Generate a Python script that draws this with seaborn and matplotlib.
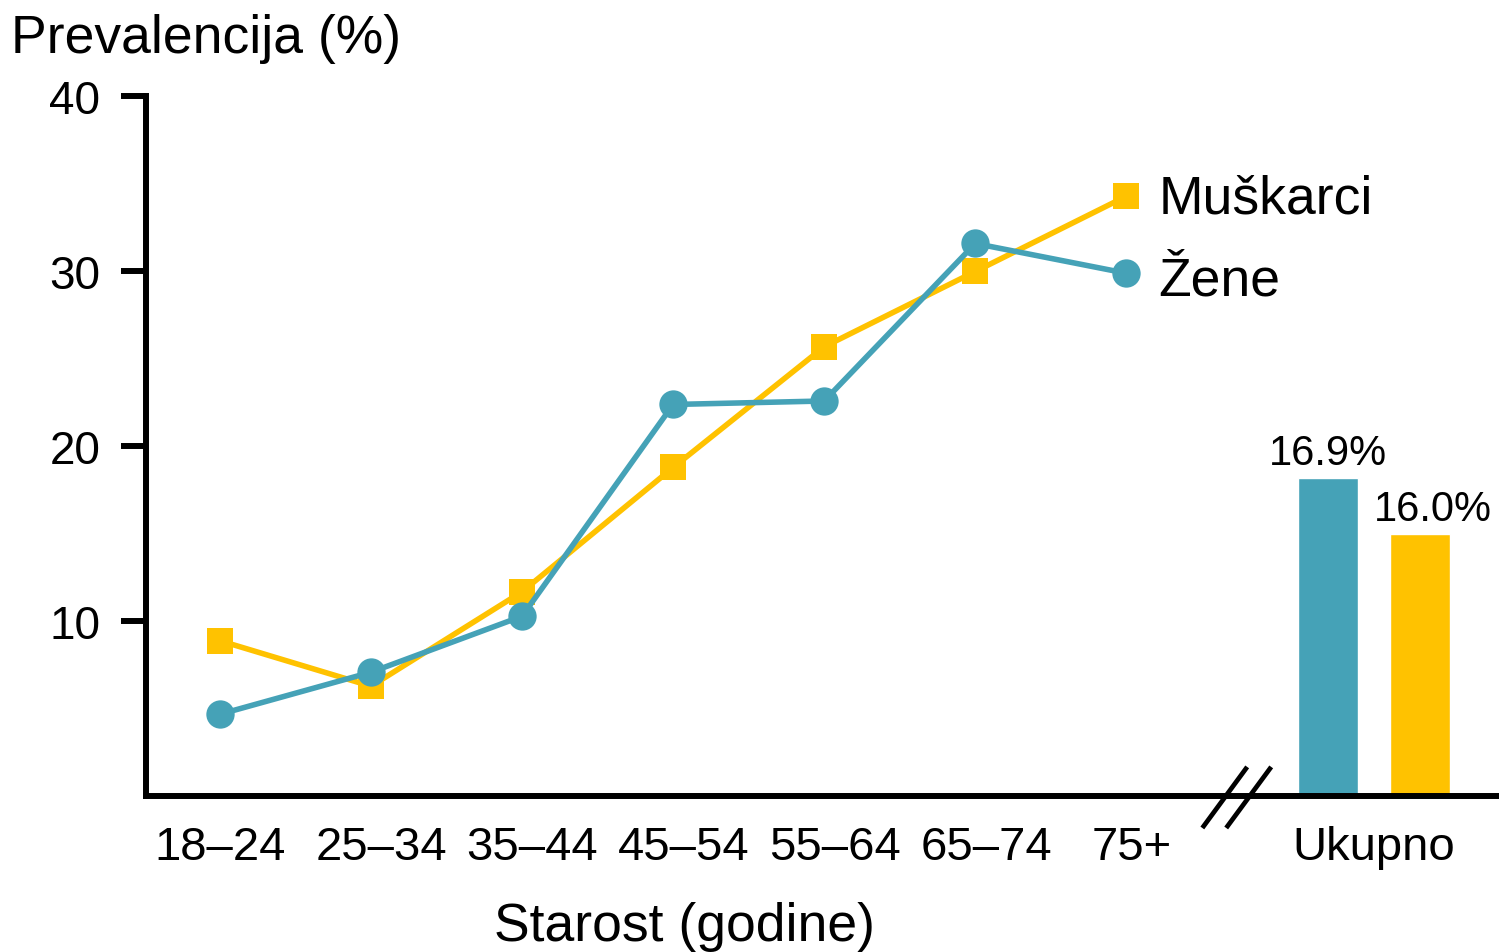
import numpy as np
import pandas as pd
import matplotlib
matplotlib.use("Agg")
import matplotlib.pyplot as plt
import seaborn as sns

# ---- data ----
age_groups = ["18–24", "25–34", "35–44", "45–54", "55–64", "65–74", "75+"]
muskarci = [8.9, 6.3, 11.7, 18.8, 25.7, 30.0, 34.3]
zene = [4.7, 7.1, 10.3, 22.4, 22.6, 31.6, 29.9]
total_heights = [18.2, 15.0]          # Žene, Muškarci (as drawn)
total_labels = ["16.9%", "16.0%"]
total_label = "Ukupno"
y_ticks = [10, 20, 30, 40]

BLUE = "#45A2B7"
YELLOW = "#FFC200"

sns.set_style("white")
plt.rcParams["font.family"] = ["Liberation Sans", "DejaVu Sans"]
plt.rcParams["text.color"] = "black"
plt.rcParams["xtick.color"] = "black"
plt.rcParams["ytick.color"] = "black"
plt.rcParams["axes.labelcolor"] = "black"

fig = plt.figure(figsize=(14.99, 9.53), dpi=100)
ax = fig.add_axes([0.0974, 0.1632, 0.9013, 0.7345])

pos = np.arange(len(age_groups))
df_m = pd.DataFrame({"pos": pos, "val": muskarci})
df_z = pd.DataFrame({"pos": pos, "val": zene})

sns.lineplot(data=df_m, x="pos", y="val", ax=ax, color=YELLOW, marker="s",
             markersize=19.2, markeredgewidth=0, linewidth=4, zorder=3)
sns.lineplot(data=df_z, x="pos", y="val", ax=ax, color=BLUE, marker="o",
             markersize=20.4, markeredgewidth=0, linewidth=4, zorder=4)

# totals bars
bar_x = [7.336, 7.945]
ax.bar(bar_x, total_heights, width=0.397, color=[BLUE, YELLOW], zorder=2)
label_dx = [0, 9]
for x, h, lab, dx in zip(bar_x, total_heights, total_labels, label_dx):
    ax.annotate(lab, (x, h), xytext=(dx, 10), textcoords="offset points",
                ha="center", va="baseline", fontsize=30, color="black")

# end labels
ax.annotate("Muškarci", (pos[-1], muskarci[-1]), xytext=(23, -11.5),
            textcoords="offset points", ha="left", va="baseline", fontsize=38.5,
            color="black")
ax.annotate("Žene", (pos[-1], zene[-1]), xytext=(23, -15),
            textcoords="offset points", ha="left", va="baseline", fontsize=38.5,
            color="black")

# break marks
for x0, x1 in [(6.503, 6.80), (6.661, 6.959)]:
    ax.plot([x0, x1], [-1.8, 1.69], color="black", lw=3.4, clip_on=False,
            solid_capstyle="butt", zorder=5)

ax.set_xlim(-0.4895, 8.454)
ax.set_ylim(0, 40)
ax.set_yticks(y_ticks)
ax.set_yticklabels([str(t) for t in y_ticks], fontsize=33)
# tick labels sit slightly right of the points in the reference (ticks are invisible)
label_shift = np.array([0, 0.07, 0.067, 0.069, 0.068, 0.074, 0.033])
ax.set_xticks(list(pos + label_shift) + [7.64])
ax.set_xticklabels(age_groups + [total_label], fontsize=34)
ax.tick_params(axis="x", bottom=True, length=0, pad=20.5, labelcolor="black")
ax.tick_params(axis="y", left=True, length=18, width=4.3, pad=15,
               direction="out", color="black", labelcolor="black")

for s in ["top", "right"]:
    ax.spines[s].set_visible(False)
for s in ["left", "bottom"]:
    ax.spines[s].set_linewidth(4.3)
    ax.spines[s].set_color("black")
    ax.spines[s].set_capstyle("projecting")

ax.set_xlabel("Starost (godine)", fontsize=38.5, va="baseline", color="black")
ax.xaxis.set_label_coords(0.3987, -0.205)
ax.set_ylabel("")

fig.text(0.0073, 0.9444, "Prevalencija (%)", fontsize=38.5, va="baseline",
         ha="left", color="black")

fig.savefig("out.png", dpi=100, facecolor="white")
